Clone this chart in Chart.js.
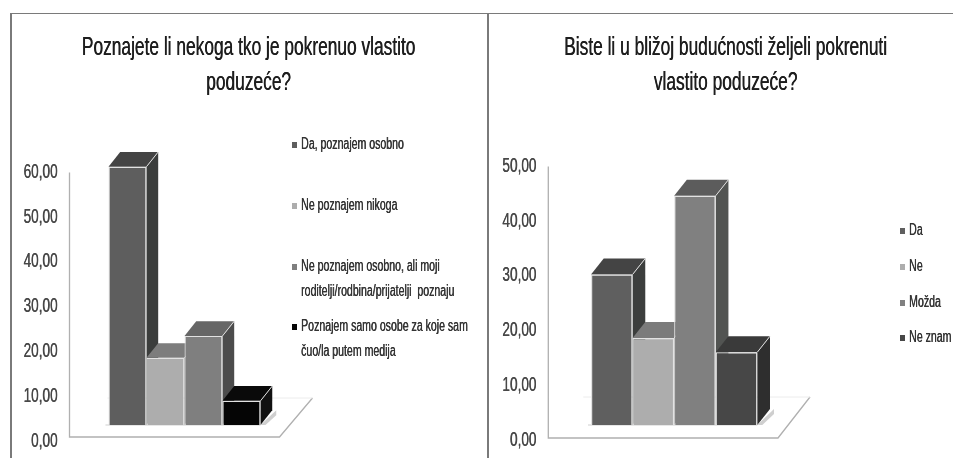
<!DOCTYPE html>
<html><head><meta charset="utf-8">
<script src="https://cdn.jsdelivr.net/npm/chart.js@4"></script>
<style>
html,body{margin:0;padding:0;background:#fff;width:953px;height:458px;overflow:hidden}
#wrap{position:relative;width:953px;height:458px;filter:blur(.5px)}
.frame{position:absolute;background:#7a7a7a}
.box{position:absolute;top:0;height:458px}
</style></head><body>
<div id="wrap">
<div class="box" style="left:20px;width:457px"><canvas id="a"></canvas></div>
<div class="box" style="left:498px;width:455px"><canvas id="b"></canvas></div>
<div class="frame" style="left:10px;top:12.5px;width:1.5px;height:446px"></div>
<div class="frame" style="left:10px;top:12.5px;width:943px;height:1.5px"></div>
<div class="frame" style="left:487px;top:12.5px;width:1.5px;height:446px"></div>
</div>
<script>
const FONT='"Liberation Sans",sans-serif';
const titleA=['Poznajete li nekoga tko je pokrenuo vlastito','poduzeće?'];
const categoriesA=['Da, poznajem osobno','Ne poznajem nikoga','Ne poznajem osobno, ali moji roditelji/rodbina/prijatelji poznaju','Poznajem samo osobe za koje sam čuo/la putem medija'];
const legendLinesA=[['Da, poznajem osobno'],['Ne poznajem nikoga'],['Ne poznajem osobno, ali moji','roditelji/rodbina/prijatelji  poznaju'],['Poznajem samo osobe za koje sam','čuo/la putem medija']];
const valuesA=[57.7,15,19.9,5.4];
const coloursA=['#5e5e5e','#adadad','#7f7f7f','#050505'];
const topsA=['#444444','#7d7d7d','#666666','#0a0a0a'];
const sidesA=['#3b3d3c','#555555','#4c4c4c','#111111'];
const ticksA=[0,10,20,30,40,50,60];
const titleB=['Biste li u bližoj budućnosti željeli pokrenuti','vlastito poduzeće?'];
const categoriesB=['Da','Ne','Možda','Ne znam'];
const legendLinesB=[['Da'],['Ne'],['Možda'],['Ne znam']];
const valuesB=[27.5,15.9,41.9,13.3];
const coloursB=['#5f5f5f','#adadad','#808080','#474747'];
const topsB=['#444444','#7b7b7b','#5c5c5c','#3a3a3a'];
const sidesB=['#3c3e3d','#666666','#525452','#2e2e2e'];
const ticksB=[0,10,20,30,40,50];

const three={id:'three',
 beforeInit(c){ // every text on this canvas is set condensed and slightly heavy, as in the reference
  const ctx=c.ctx,raw=ctx.fillText.bind(ctx);ctx.squeeze=.68;
  ctx.fillText=(s,x,y)=>{ctx.save();ctx.translate(x,y);ctx.scale(ctx.squeeze,1);raw(s,0,0);raw(s,.5,0);ctx.restore();};
 },
 beforeDatasetsDraw(c,_,o){
  const ctx=c.ctx,y=c.scales.y,x=c.scales.x,L=x.left,R=x.right,b=y.bottom,t=y.top,f=b-o.floorLift;
  ctx.save();ctx.lineWidth=1.3;ctx.strokeStyle='#b0b0b0';
  ctx.beginPath();ctx.moveTo(L,t);ctx.lineTo(L,f);ctx.lineTo(R,f);ctx.lineTo(R+o.floorDX,f-o.floorDY);ctx.stroke();
  ctx.strokeStyle='#ececec';ctx.lineWidth=1;
  ctx.beginPath();ctx.moveTo(L+o.backX,f-o.floorDY);ctx.lineTo(R+o.floorDX,f-o.floorDY);ctx.stroke();
  ctx.restore();
  ctx.save();ctx.translate(o.shiftX,-o.shiftY);
  const dx=o.depthX,dy=o.depthY;
  const els=c.data.datasets.map((d,i)=>c.getDatasetMeta(i).data[0]);
  const first=els[0],last=els[els.length-1],rr=last.x+last.width/2;
  ctx.strokeStyle='#cfcfcf';ctx.lineWidth=1;
  ctx.beginPath();ctx.moveTo(first.x-first.width/2-3,b);ctx.lineTo(rr,b);ctx.stroke();
  ctx.fillStyle='#cfcfcf';
  ctx.beginPath();ctx.moveTo(rr,b);ctx.lineTo(rr+dx+4,b-dy);ctx.lineTo(rr+dx+4,b-dy+5);ctx.lineTo(rr+5,b);ctx.fill();
  els.forEach((e,i)=>{
   const l=e.x-e.width/2,r=e.x+e.width/2,T=e.y,B=e.base,ds=c.data.datasets[i];
   ctx.fillStyle=ds.sideColor;
   ctx.beginPath();ctx.moveTo(r,T);ctx.lineTo(r+dx,T-dy);ctx.lineTo(r+dx,B-dy);ctx.lineTo(r,B);ctx.closePath();ctx.fill();
   ctx.fillStyle=ds.topColor;
   ctx.beginPath();ctx.moveTo(l,T);ctx.lineTo(l+dx,T-dy);ctx.lineTo(r+dx,T-dy);ctx.lineTo(r,T);ctx.closePath();ctx.fill();
   ctx.strokeStyle='#dcdcdc';ctx.lineWidth=1;
   ctx.beginPath();ctx.moveTo(r,T);ctx.lineTo(r+dx,T-dy);ctx.stroke();
  });
 },
 afterDatasetsDraw(c){c.ctx.restore();},
 afterDraw(c,_,o){
  const ctx=c.ctx;ctx.save();ctx.textBaseline='middle';ctx.textAlign='left';ctx.font=o.legendFont;
  const keep=ctx.squeeze;ctx.squeeze=o.legendSqueeze;
  c.data.datasets.forEach((d,i)=>{
   const y=o.legendY[i];
   ctx.fillStyle=d.backgroundColor;ctx.fillRect(o.legendX,y-3,5,6);
   ctx.fillStyle='#333';
   o.lines[i].forEach((s,j)=>ctx.fillText(s,o.legendX+9,y+j*o.lineH));
  });
  ctx.squeeze=keep;ctx.restore();
 }};

function make(id,title,cats,lines,vals,cols,tops,sides,ticks,max,layout,plug){
 return new Chart(document.getElementById(id),{type:'bar',
  data:{labels:[''],datasets:cats.map((n,i)=>({label:n,data:[vals[i]],backgroundColor:cols[i],borderColor:'#e2e2e2',borderWidth:1.2,topColor:tops[i],sideColor:sides[i],barPercentage:1,categoryPercentage:.724}))},
  options:{responsive:true,maintainAspectRatio:false,animation:false,
   layout:{padding:layout},
   plugins:{legend:{display:false},tooltip:{enabled:false},
    title:{display:true,text:title,color:'#1e1e1e',font:{family:FONT,size:25.5,weight:'normal',lineHeight:1.38},padding:{top:30,bottom:plug.titleGap},align:'center'},
    three:Object.assign({lines},plug)},
   scales:{x:{display:true,grid:{display:false},border:{display:false},ticks:{display:false},afterFit(s){s.height=0}},
    y:{min:0,max,afterBuildTicks(a){a.ticks=ticks.map(v=>({value:v}))},grid:{display:false},border:{display:false},
     ticks:{color:'#484848',font:{family:FONT,size:20},padding:4,callback:v=>v.toFixed(2).replace('.',',')},afterFit(s){s.width=plug.axisW}},
    legendRoom:{type:'linear',position:'right',grid:{display:false},border:{display:false},ticks:{display:false},afterFit(s){s.width=plug.roomW}}}},
  plugins:[three]});
}
make('a',titleA,categoriesA,legendLinesA,valuesA,coloursA,topsA,sidesA,ticksA,60,{left:0,right:0,top:0,bottom:17},
 {axisW:49.5,roomW:197.5,titleGap:72,floorLift:4,floorDX:33,floorDY:39,backX:38,shiftX:10,shiftY:16,depthX:11.7,depthY:14.7,
  legendX:272,legendY:[145,206,267,327],lineH:24.5,legendFont:'16px '+FONT,legendSqueeze:.66});
make('b',titleB,categoriesB,legendLinesB,valuesB,coloursB,topsB,sidesB,ticksB,50,{left:0,right:0,top:0,bottom:18},
 {axisW:50.3,roomW:175,titleGap:66,floorLift:2,floorDX:32,floorDY:41,backX:35,shiftX:11,shiftY:15,depthX:12.7,depthY:16,
  legendX:402,legendY:[231,267,303,338],lineH:20,legendFont:'16px '+FONT,legendSqueeze:.66});
</script></body></html>
